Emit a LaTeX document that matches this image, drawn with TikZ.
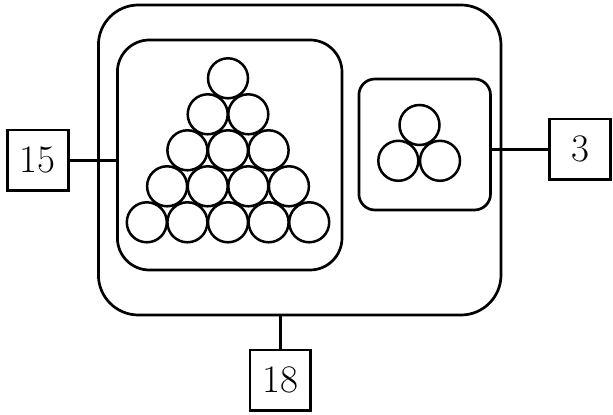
\documentclass[tikz,border=0pt]{standalone}
\usepackage{tikz}

\tikzset{
    numbox/.style={draw, line width=1.35pt, inner sep=0pt, minimum width=30.4pt, minimum height=30.4pt, font=\fontsize{19.5}{22}\selectfont},
    tray/.style={draw, line width=1.35pt, inner sep=0pt, rectangle},
    ball/.style={draw, circle, line width=1.25pt, inner sep=0pt, minimum size=20pt}
}

\begin{document}
\begin{tikzpicture}[x=0.5pt, y=-0.5pt]
        \useasboundingbox (0, 0) rectangle (613, 415);

        \node [tray, rounded corners=20pt, minimum width=201.3pt, minimum height=155pt] (outer) at (299.7, 160) {};
        \node [tray, rounded corners=16pt, minimum width=112.3pt, minimum height=115pt] (pile) at (229.7, 155) {};
        \node [tray, rounded corners=8pt, minimum width=65.8pt, minimum height=65.5pt] (trio) at (424.7, 144.5) {};

        % 15 balls
        \foreach \r in {0,...,4} {
            \foreach \k in {0,...,\r} {
                \node [ball] (b-\r-\k) at ({228 + (\k - \r/2)*40.6}, {78.3 + 36*\r}) {};
            }
        }

        % 3 balls
        \node [ball] (t-top) at (419.5, 125) {};
        \node [ball] (t-left) at (398.3, 160.8) {};
        \node [ball] (t-right) at (440, 160.8) {};

        \node [numbox] (n15) at (37.9, 160.3) {15};
        \node [numbox] (n3) at (580, 149.3) {3};
        \node [numbox] (n18) at (280.3, 380.3) {18};

        \draw [line width=1.35pt] (n15.east) -- (n15.east -| pile.west);
        \draw [line width=1.35pt] (n3.west) -- (n3.west -| trio.east);
        \draw [line width=1.35pt] (n18.north) -- (n18.north |- outer.south);
\end{tikzpicture}
\end{document}
